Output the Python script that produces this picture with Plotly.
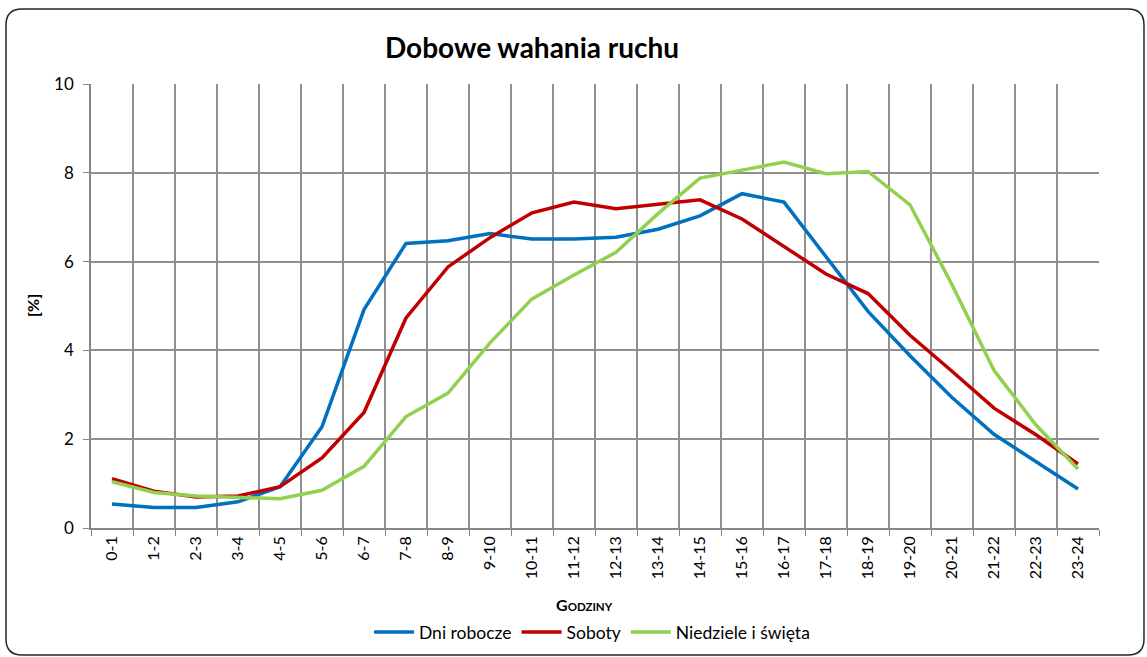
import plotly.graph_objects as go

hours = ["0-1", "1-2", "2-3", "3-4", "4-5", "5-6", "6-7", "7-8", "8-9", "9-10", "10-11", "11-12",
         "12-13", "13-14", "14-15", "15-16", "16-17", "17-18", "18-19", "19-20", "20-21", "21-22",
         "22-23", "23-24"]

dni_robocze = [0.54, 0.46, 0.46, 0.59, 0.93, 2.28, 4.92, 6.41, 6.47, 6.63, 6.51, 6.51,
               6.55, 6.73, 7.03, 7.53, 7.34, 6.10, 4.88, 3.88, 2.94, 2.11, 1.50, 0.88]
soboty = [1.11, 0.83, 0.70, 0.72, 0.93, 1.58, 2.60, 4.73, 5.88, 6.54, 7.10, 7.34,
          7.19, 7.29, 7.39, 6.96, 6.34, 5.72, 5.28, 4.34, 3.53, 2.70, 2.10, 1.44]
niedziele = [1.04, 0.80, 0.72, 0.69, 0.66, 0.85, 1.39, 2.51, 3.04, 4.17, 5.16, 5.70,
             6.21, 7.08, 7.88, 8.06, 8.24, 7.98, 8.03, 7.28, 5.48, 3.55, 2.32, 1.33]

series = [("Dni robocze", dni_robocze, "#0070C0"),
          ("Soboty", soboty, "#C00000"),
          ("Niedziele i święta", niedziele, "#92D050")]

W, H = 1147, 657
L, R, T, B = 91, 1099, 84, 528
FONT = "Lato"

fig = go.Figure()
for name, vals, col in series:
    fig.add_trace(go.Scatter(x=hours, y=vals, mode="lines", name=name,
                             line=dict(color=col, width=3.5)))

# outer rounded border (pixel -> paper)
def px(x):
    return (x - L) / (R - L)

def py(y):
    return (B - y) / (B - T)

x0, x1, y0, y1, r = 6, 1144, 9, 655, 16
path = (f"M {px(x0 + r)} {py(y0)} L {px(x1 - r)} {py(y0)} Q {px(x1)} {py(y0)} {px(x1)} {py(y0 + r)} "
        f"L {px(x1)} {py(y1 - r)} Q {px(x1)} {py(y1)} {px(x1 - r)} {py(y1)} "
        f"L {px(x0 + r)} {py(y1)} Q {px(x0)} {py(y1)} {px(x0)} {py(y1 - r)} "
        f"L {px(x0)} {py(y0 + r)} Q {px(x0)} {py(y0)} {px(x0 + r)} {py(y0)} Z")
fig.add_shape(type="path", path=path, xref="paper", yref="paper",
              line=dict(color="#262626", width=1.5), layer="above")

fig.update_layout(
    width=W, height=H,
    margin=dict(l=L, r=W - R, t=T, b=H - B, autoexpand=False),
    plot_bgcolor="white", paper_bgcolor="white",
    font=dict(family=FONT, color="#000000", size=15),
    showlegend=True,
    legend=dict(orientation="h", x=px(592), xanchor="center", y=py(632), yanchor="middle",
                font=dict(size=17.5, family=FONT), itemwidth=40, tracegroupgap=0),
    annotations=[
        dict(text="<b>Dobowe wahania ruchu</b>", x=px(532), y=py(47), xref="paper", yref="paper",
             showarrow=False, font=dict(size=28, family=FONT), xanchor="center", yanchor="middle"),
        dict(text="<b>[%]</b>", x=px(32), y=py(306), xref="paper", yref="paper", textangle=-90,
             showarrow=False, font=dict(size=16, family=FONT), xanchor="center", yanchor="middle"),
        dict(text="<b>G<span style='font-size:11.5px'>ODZINY</span></b>", x=px(584), y=py(604),
             xref="paper", yref="paper", showarrow=False, font=dict(size=16, family=FONT),
             xanchor="center", yanchor="middle"),
    ],
)

fig.update_xaxes(
    type="category", tickson="boundaries", tickangle=-90,
    showgrid=True, gridcolor="#8f8f8f", gridwidth=1.5,
    showline=True, linecolor="#868686", linewidth=1.5,
    ticks="outside", ticklen=6, tickcolor="#868686",
    tickfont=dict(size=16, family=FONT), range=[-0.5, 23.5],
)
fig.update_yaxes(
    range=[0, 10], tick0=0, dtick=2,
    showgrid=True, gridcolor="#8f8f8f", gridwidth=1.5,
    showline=True, linecolor="#868686", linewidth=1.5,
    ticks="outside", ticklen=6, tickcolor="#868686", ticklabelstandoff=6,
    tickfont=dict(size=17, family=FONT), zeroline=False,
)

fig.write_html("out.html", config={"displayModeBar": False},
               post_script="document.body.style.margin='0';document.body.style.overflow='hidden';")
